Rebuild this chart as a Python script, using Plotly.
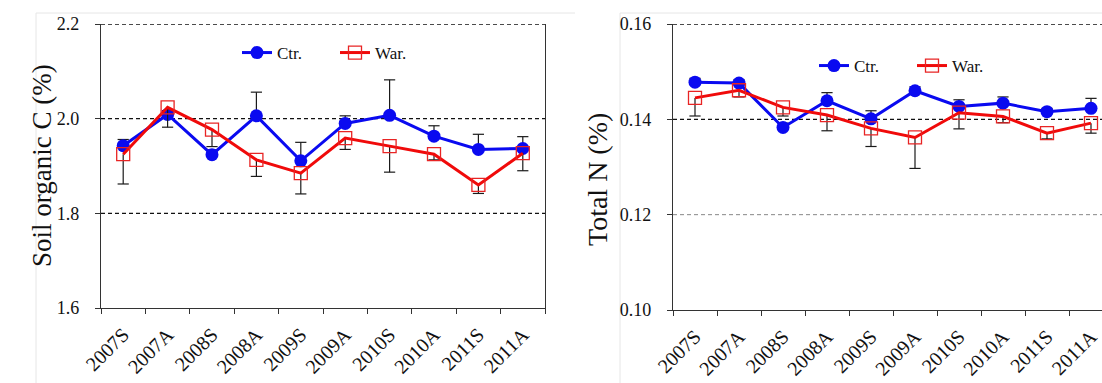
import plotly.graph_objects as go

# ---- data ----
seasons = ["2007S", "2007A", "2008S", "2008A", "2009S",
           "2009A", "2010S", "2010A", "2011S", "2011A"]

soc_ctr = [1.943, 2.009, 1.924, 2.006, 1.911, 1.990, 2.007, 1.963, 1.935, 1.937]
soc_ctr_se = [0.013, 0.008, 0.010, 0.050, 0.039, 0.016, 0.075, 0.022, 0.032, 0.025]
soc_war = [1.925, 2.024, 1.977, 1.913, 1.885, 1.959, 1.942, 1.925, 1.860, 1.927]
soc_war_se = [0.063, 0.042, 0.036, 0.035, 0.044, 0.024, 0.055, 0.012, 0.018, 0.037]

tn_ctr = [0.1478, 0.1476, 0.1383, 0.1439, 0.1401, 0.1460, 0.1427, 0.1434, 0.1416, 0.1423]
tn_ctr_se = [0.0008, 0.0007, 0.0009, 0.0017, 0.0017, 0.0008, 0.0014, 0.0013, 0.0007, 0.0021]
tn_war = [0.1445, 0.1461, 0.1425, 0.1409, 0.1381, 0.1362, 0.1414, 0.1406, 0.1371, 0.1392]
tn_war_se = [0.0038, 0.0014, 0.0018, 0.0033, 0.0038, 0.0065, 0.0034, 0.0013, 0.0012, 0.0021]

soc_ticks = [1.6, 1.8, 2.0, 2.2]
soc_ticktext = ["1.6", "1.8", "2.0", "2.2"]
tn_ticks = [0.10, 0.12, 0.14, 0.16]
tn_ticktext = ["0.10", "0.12", "0.14", "0.16"]

W, H = 1102, 383
FONT = "Liberation Serif"
BLUE = "#0a0af0"
RED = "#f00a0a"
BAR = "#1a1a1a"
TXT = "#111111"

fig = go.Figure()


def add_series(xa, ya, y, se, upward, color, symbol, name, legend):
    n = len(y)
    zeros = [0] * n
    sign = 1 if upward else -1
    # one-sided error bar stems
    fig.add_trace(go.Scatter(
        x=seasons, y=y, mode="markers", xaxis=xa, yaxis=ya,
        marker=dict(size=1, color="rgba(0,0,0,0)"),
        error_y=dict(type="data", symmetric=False,
                     array=se if upward else zeros,
                     arrayminus=zeros if upward else se,
                     width=0, thickness=1.2, color=BAR),
        showlegend=False, hoverinfo="skip"))
    # caps at the far end of each bar
    fig.add_trace(go.Scatter(
        x=seasons, y=[v + sign * e for v, e in zip(y, se)],
        mode="markers", xaxis=xa, yaxis=ya,
        marker=dict(symbol="line-ew-open", size=8, color=BAR,
                    line=dict(width=1.2, color=BAR)),
        showlegend=False, hoverinfo="skip"))
    if symbol == "circle":
        marker = dict(symbol="circle", size=13, color=color,
                      line=dict(width=0))
    else:
        marker = dict(symbol="square-open", size=13, color="#e82424",
                      line=dict(width=1.3, color="#e82424"))
    fig.add_trace(go.Scatter(
        x=seasons, y=y, mode="lines+markers", xaxis=xa, yaxis=ya,
        name=name, legend=legend,
        line=dict(color=color, width=3), marker=marker))


add_series("x", "y", soc_ctr, soc_ctr_se, True, BLUE, "circle", "Ctr.", "legend")
add_series("x", "y", soc_war, soc_war_se, False, RED, "square", "War.", "legend")
add_series("x2", "y2", tn_ctr, tn_ctr_se, True, BLUE, "circle", "Ctr.", "legend2")
add_series("x2", "y2", tn_war, tn_war_se, False, RED, "square", "War.", "legend2")

axis_line = dict(showline=True, linecolor="#333333", linewidth=1.3,
                 ticks="outside", ticklen=5, tickwidth=1.2, tickcolor="#333333",
                 zeroline=False, showgrid=False, automargin=False)

xcommon = dict(type="category", tickson="boundaries", tickangle=-45,
               ticklabelstandoff=6,
               tickfont=dict(family=FONT, size=20, color=TXT), **axis_line)
ycommon = dict(ticklabelstandoff=12,
               tickfont=dict(family=FONT, size=18, color=TXT), **axis_line)

legend_common = dict(orientation="h", xanchor="left", yanchor="middle",
                     font=dict(family=FONT, size=17, color=TXT),
                     bgcolor="rgba(0,0,0,0)", entrywidth=53, itemwidth=30)

fig.update_layout(
    template="none",
    width=W, height=H,
    margin=dict(l=0, r=0, t=0, b=0, autoexpand=False),
    paper_bgcolor="white", plot_bgcolor="white",
    font=dict(family=FONT, color=TXT),
    xaxis=dict(domain=[101 / W, 545 / W], anchor="y",
               range=[-0.5, 9.5], **xcommon),
    yaxis=dict(domain=[1 - 308 / H, 1 - 24 / H], anchor="x",
               range=[1.6, 2.2], tickvals=soc_ticks, ticktext=soc_ticktext,
               mirror=True, **ycommon),
    xaxis2=dict(domain=[673 / W, 1.0], anchor="y2",
                range=[-0.5, 9.25], **xcommon),
    yaxis2=dict(domain=[1 - 310 / H, 1 - 24 / H], anchor="x2",
                range=[0.10, 0.16], tickvals=tn_ticks, ticktext=tn_ticktext,
                **ycommon),
    legend=dict(x=237 / W, y=1 - 53 / H, **legend_common),
    legend2=dict(x=814 / W, y=1 - 66 / H, **legend_common),
)

# dashed reference lines at the major ticks
shapes = []
for g in soc_ticks[1:]:
    shapes.append(dict(type="line", xref="x domain", yref="y",
                       x0=0, x1=1, y0=g, y1=g, layer="below",
                       line=dict(color=TXT, width=1.3, dash="4px,3px")))
tn_grid_colors = ["#7a7a7a", TXT, TXT]
tn_grid_widths = [0.9, 1.3, 1.3]
for g, c, w in zip(tn_ticks[1:], tn_grid_colors, tn_grid_widths):
    shapes.append(dict(type="line", xref="x2 domain", yref="y2",
                       x0=0, x1=1, y0=g, y1=g, layer="below",
                       line=dict(color=c, width=w, dash="4px,3px")))

# faint panel frames
frame = dict(color="#e6e6e6", width=1)
for left, right in [(36, 575), (620, W)]:
    shapes.append(dict(type="line", xref="paper", yref="paper",
                       x0=left / W, x1=right / W, y0=1 - 13 / H, y1=1 - 13 / H,
                       line=frame, layer="below"))
    shapes.append(dict(type="line", xref="paper", yref="paper",
                       x0=left / W, x1=left / W, y0=0, y1=1 - 13 / H,
                       line=frame, layer="below"))
fig.update_layout(shapes=shapes)

# y-axis titles
fig.add_annotation(text="Soil organic C (%)", xref="paper", yref="paper",
                   x=25 / W, y=1 - 166 / H, textangle=-90, showarrow=False,
                   font=dict(family=FONT, size=27, color=TXT))
fig.add_annotation(text="Total N (%)", xref="paper", yref="paper",
                   x=597 / W, y=1 - 180 / H, textangle=-90, showarrow=False,
                   font=dict(family=FONT, size=28, color=TXT))

fig.write_html("out.html")
